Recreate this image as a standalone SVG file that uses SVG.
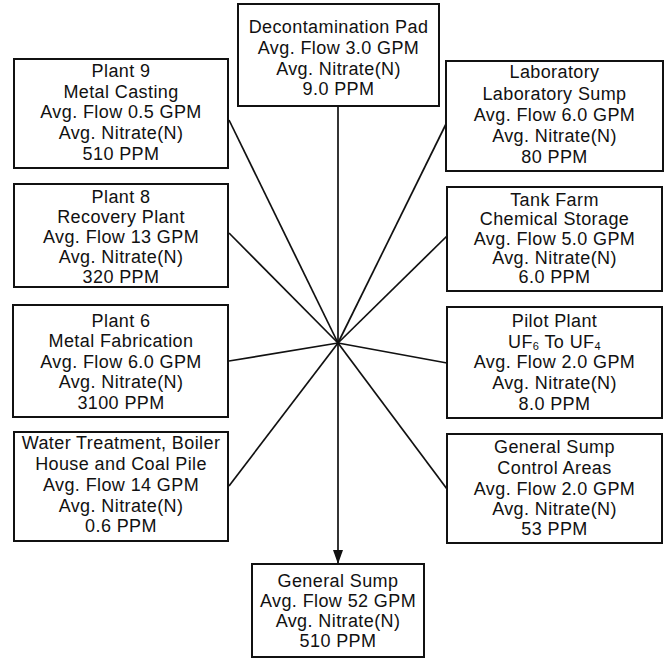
<svg xmlns="http://www.w3.org/2000/svg" width="666" height="660" viewBox="0 0 666 660">
<style>
.box{fill:#fff;stroke:#111;stroke-width:2}
.t{font-family:"Liberation Sans",Arial,sans-serif;font-size:18px;letter-spacing:0.4px;fill:#111;text-anchor:middle}
.c{stroke:#111;stroke-width:1.7;fill:none}
.sub{font-size:11px}
</style>
<defs>
<marker id="arr" viewBox="0 0 14 10" refX="14" refY="5" markerWidth="14" markerHeight="10" markerUnits="userSpaceOnUse" orient="auto">
<path d="M0,0 L14,5 L0,10 Z" fill="#111"/>
</marker>
</defs>
<rect width="666" height="660" fill="#fff"/>
<g id="connectors">
<line class="c" x1="338" y1="106" x2="338" y2="343"/>
<line class="c" x1="229" y1="120" x2="338" y2="343"/>
<line class="c" x1="229" y1="233" x2="338" y2="343"/>
<line class="c" x1="229" y1="361" x2="338" y2="343"/>
<line class="c" x1="229" y1="486" x2="338" y2="343"/>
<line class="c" x1="446" y1="124" x2="338" y2="343"/>
<line class="c" x1="447" y1="236" x2="338" y2="343"/>
<line class="c" x1="447" y1="363" x2="338" y2="343"/>
<line class="c" x1="447" y1="489" x2="338" y2="343"/>
<line class="c" x1="338" y1="343" x2="338" y2="564" marker-end="url(#arr)"/>
</g>
<g id="decon">
<rect class="box" x="238" y="4" width="201" height="102"/>
<text class="t" x="338.5" y="33">Decontamination Pad</text>
<text class="t" x="338.5" y="54">Avg. Flow 3.0 GPM</text>
<text class="t" x="338.5" y="75">Avg. Nitrate(N)</text>
<text class="t" x="338.5" y="95">9.0 PPM</text>
</g>
<g id="plant9">
<rect class="box" x="14" y="59" width="214" height="109"/>
<text class="t" x="121" y="77">Plant 9</text>
<text class="t" x="121" y="98">Metal Casting</text>
<text class="t" x="121" y="118">Avg. Flow 0.5 GPM</text>
<text class="t" x="121" y="139">Avg. Nitrate(N)</text>
<text class="t" x="121" y="160">510 PPM</text>
</g>
<g id="plant8">
<rect class="box" x="14" y="184" width="214" height="103"/>
<text class="t" x="121" y="203">Plant 8</text>
<text class="t" x="121" y="223">Recovery Plant</text>
<text class="t" x="121" y="243">Avg. Flow 13 GPM</text>
<text class="t" x="121" y="263">Avg. Nitrate(N)</text>
<text class="t" x="121" y="283">320 PPM</text>
</g>
<g id="plant6">
<rect class="box" x="13" y="305" width="215" height="112"/>
<text class="t" x="121" y="327">Plant 6</text>
<text class="t" x="121" y="347">Metal Fabrication</text>
<text class="t" x="121" y="368">Avg. Flow 6.0 GPM</text>
<text class="t" x="121" y="388">Avg. Nitrate(N)</text>
<text class="t" x="121" y="409">3100 PPM</text>
</g>
<g id="water">
<rect class="box" x="14" y="432" width="214" height="109"/>
<text class="t" x="121" y="449">Water Treatment, Boiler</text>
<text class="t" x="121" y="470">House and Coal Pile</text>
<text class="t" x="121" y="491">Avg. Flow 14 GPM</text>
<text class="t" x="121" y="512">Avg. Nitrate(N)</text>
<text class="t" x="121" y="532">0.6 PPM</text>
</g>
<g id="lab">
<rect class="box" x="446" y="61" width="217" height="110"/>
<text class="t" x="554.5" y="78">Laboratory</text>
<text class="t" x="554.5" y="100">Laboratory Sump</text>
<text class="t" x="554.5" y="121">Avg. Flow 6.0 GPM</text>
<text class="t" x="554.5" y="142">Avg. Nitrate(N)</text>
<text class="t" x="554.5" y="163">80 PPM</text>
</g>
<g id="tankfarm">
<rect class="box" x="447" y="187" width="215" height="104"/>
<text class="t" x="554.5" y="206">Tank Farm</text>
<text class="t" x="554.5" y="225">Chemical Storage</text>
<text class="t" x="554.5" y="245">Avg. Flow 5.0 GPM</text>
<text class="t" x="554.5" y="264">Avg. Nitrate(N)</text>
<text class="t" x="554.5" y="283">6.0 PPM</text>
</g>
<g id="pilot">
<rect class="box" x="447" y="307" width="215" height="111"/>
<text class="t" x="554.5" y="327">Pilot Plant</text>
<text class="t" x="554.5" y="348">UF<tspan class="sub" dy="2">6</tspan><tspan dy="-2"> To UF</tspan><tspan class="sub" dy="2">4</tspan></text>
<text class="t" x="554.5" y="368">Avg. Flow 2.0 GPM</text>
<text class="t" x="554.5" y="389">Avg. Nitrate(N)</text>
<text class="t" x="554.5" y="410">8.0 PPM</text>
</g>
<g id="gscontrol">
<rect class="box" x="447" y="434" width="215" height="109"/>
<text class="t" x="554.5" y="453">General Sump</text>
<text class="t" x="554.5" y="474">Control Areas</text>
<text class="t" x="554.5" y="495">Avg. Flow 2.0 GPM</text>
<text class="t" x="554.5" y="515">Avg. Nitrate(N)</text>
<text class="t" x="554.5" y="535">53 PPM</text>
</g>
<g id="gensump">
<rect class="box" x="252" y="564" width="172" height="93"/>
<text class="t" x="338" y="587">General Sump</text>
<text class="t" x="338" y="607">Avg. Flow 52 GPM</text>
<text class="t" x="338" y="627">Avg. Nitrate(N)</text>
<text class="t" x="338" y="647">510 PPM</text>
</g>
</svg>
